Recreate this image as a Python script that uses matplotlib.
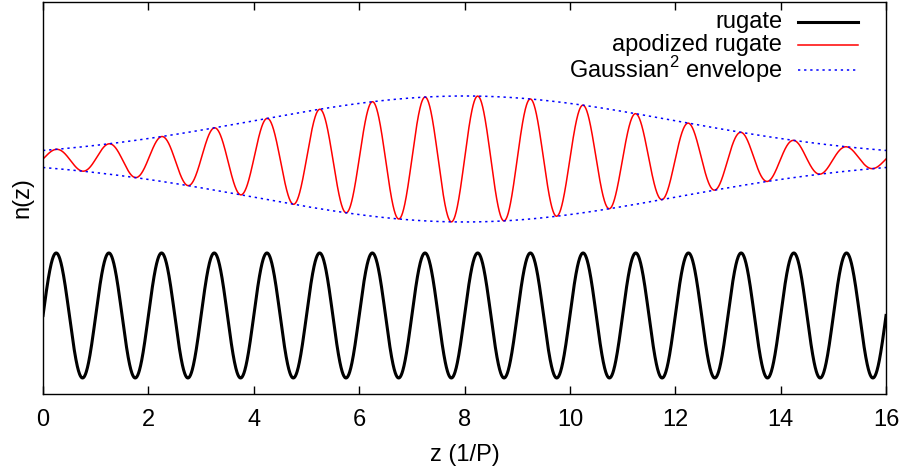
import numpy as np
import matplotlib
matplotlib.use('Agg')
import matplotlib.pyplot as plt

plt.rcParams['font.family'] = ['Liberation Sans', 'DejaVu Sans']
plt.rcParams['mathtext.fontset'] = 'custom'
plt.rcParams['mathtext.rm'] = 'Liberation Sans'

# layer position in units of the rugate period P
z_min, z_max = 0, 16
period = 1.0

# index profile parameters (arbitrary n units)
rugate_mean = 78.5
rugate_amp = 62.5
apod_mean = 235.0
apod_amp = 63.0
env_center = 8.0
env_width = 8.0

xticks = [0, 2, 4, 6, 8, 10, 12, 14, 16]
labels = ['rugate', 'apodized rugate', 'Gaussian$^{\\mathrm{2}}$ envelope']

z = np.linspace(z_min, z_max, 3000)
rugate = rugate_mean + rugate_amp * np.sin(2 * np.pi * z / period)
envelope = np.exp(-((z - env_center) / env_width) ** 2) ** 2
apodized = apod_mean + apod_amp * envelope * np.sin(2 * np.pi * z / period)

fs = 17
dotted = (0, (1.5, 2.5))

fig = plt.figure(figsize=(9.02, 4.72), dpi=100)
ax = fig.add_axes([0.0477, 0.1653, 0.9346, 0.8305])

ax.plot(z, rugate, color='black', lw=2.2)
ax.plot(z, apodized, color='red', lw=1.1)
ax.plot(z, apod_mean + apod_amp * envelope, color='blue', lw=1.1, ls=dotted)
ax.plot(z, apod_mean - apod_amp * envelope, color='blue', lw=1.1, ls=dotted)

ax.set_xlim(z_min, z_max)
ax.set_ylim(0, 392)
ax.set_xticks(xticks)
ax.set_yticks([])
ax.tick_params(axis='x', direction='in', top=True, length=6, width=1,
               labelsize=fs, pad=11)
for s in ax.spines.values():
    s.set_linewidth(1.0)

ax.set_xlabel('z (1/P)', fontsize=fs, labelpad=9)
ax.set_ylabel('n(z)', fontsize=fs, labelpad=7)

# legend: right-aligned text with the line sample after it
styles = [dict(color='black', lw=2.2),
          dict(color='red', lw=1.1),
          dict(color='blue', lw=1.1, ls=dotted)]
rows = [0.949, 0.890, 0.827]
for lab, st, yy in zip(labels, styles, rows):
    ax.text(0.877, yy, lab, transform=ax.transAxes, ha='right', va='center',
            fontsize=fs)
    ax.plot([0.896, 0.967], [yy, yy], transform=ax.transAxes, **st)

fig.savefig('out.png', dpi=100)
